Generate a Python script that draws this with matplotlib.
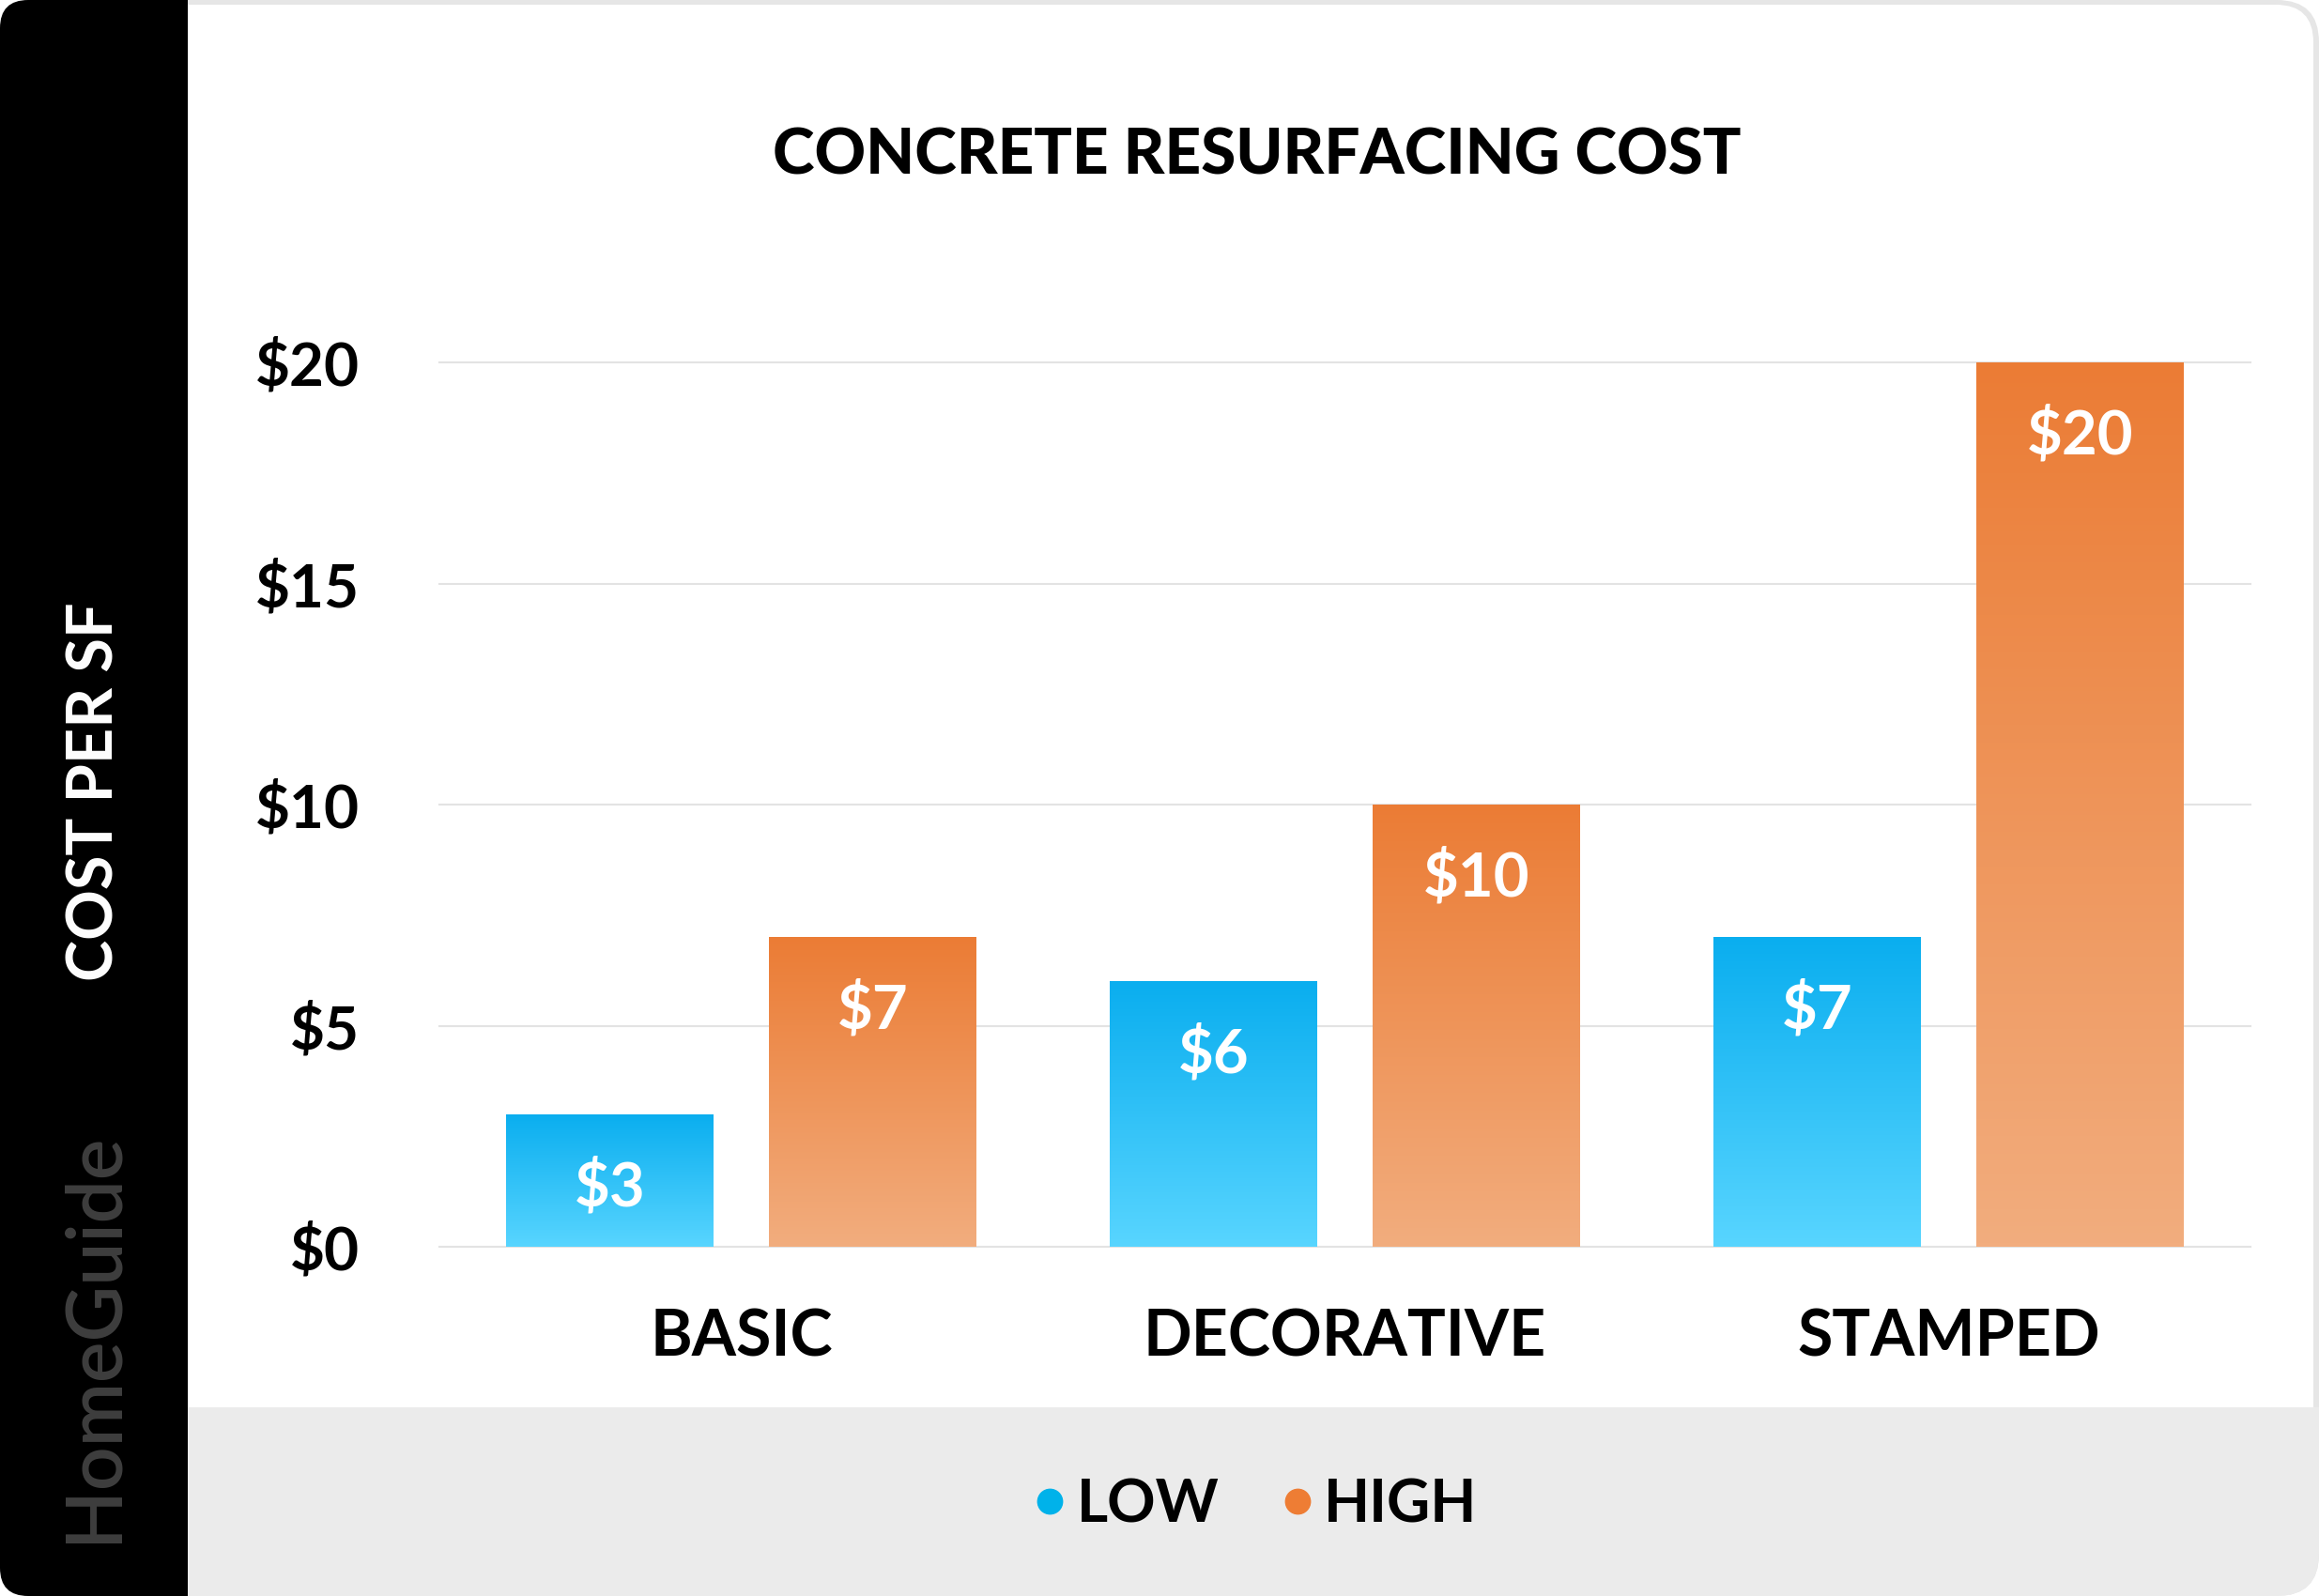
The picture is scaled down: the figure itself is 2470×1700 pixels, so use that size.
import numpy as np
import matplotlib.pyplot as plt
from matplotlib.patches import FancyBboxPatch, Rectangle
from matplotlib.colors import LinearSegmentedColormap
from matplotlib.lines import Line2D

# данные
categories = ['BASIC', 'DECORATIVE', 'STAMPED']
low_values = [3, 6, 7]
high_values = [7, 10, 20]
series_names = ['LOW', 'HIGH']
y_ticks = [0, 5, 10, 15, 20]
y_tick_labels = ['$0', '$5', '$10', '$15', '$20']

FONT = 'Lato'
W, H = 2470, 1700
BAND = 1499  # верх серой полосы легенды, px

fig = plt.figure(figsize=(W / 100, H / 100), dpi=100)
fig.patch.set_facecolor('white')

# фон карточки в пикселях
bg = fig.add_axes([0, 0, 1, 1], zorder=-5)
bg.set_xlim(0, W)
bg.set_ylim(H, 0)
bg.axis('off')
outer = FancyBboxPatch((0, 0), W, H, boxstyle='round,pad=0,rounding_size=45',
                       fc='#e6e6e6', ec='none')
bg.add_patch(outer)
bg.add_patch(FancyBboxPatch((0, 5), W - 6, H - 5, boxstyle='round,pad=0,rounding_size=40',
                            fc='white', ec='none'))
band = Rectangle((150, BAND), W - 150, H - BAND, fc='#ebebeb', ec='none')
bg.add_patch(band)
band.set_clip_path(outer)
bg.add_patch(FancyBboxPatch((0, 0), 260, H, boxstyle='round,pad=0,rounding_size=30',
                            fc='black', ec='none'))
bg.add_patch(Rectangle((200, 0), 80, 5, fc='#e6e6e6', ec='none'))
bg.add_patch(Rectangle((200, 5), 80, BAND - 5, fc='white', ec='none'))
bg.add_patch(Rectangle((200, BAND), 80, H - BAND, fc='#ebebeb', ec='none'))

bg.text(102, 843, 'COST PER SF', rotation=90, color='white', fontsize=48,
        fontweight='bold', family=FONT, ha='center', va='center')
bg.text(100, 1424, 'HomeGuide', rotation=90, color='#3e3e3e', fontsize=59,
        fontweight='semibold', family=FONT, ha='center', va='center')

fig.text(0.542, 1 - 166 / H, 'CONCRETE RESURFACING COST', fontsize=48.5,
         fontweight='black', family=FONT, ha='center', va='center')

# основной график
ax = fig.add_axes([468 / W, 1 - 1328 / H, (2397 - 468) / W, (1328 - 386) / H])
ax.set_facecolor('none')
x = np.arange(len(categories))
width = 0.343
offset = 0.218

blue_cmap = LinearSegmentedColormap.from_list('b', ['#58d5ff', '#0aaeef'])
orange_cmap = LinearSegmentedColormap.from_list('o', ['#f2ad7e', '#eb7c35'])

bars_low = ax.bar(x - offset, low_values, width, color='#0aaeef', zorder=2)
bars_high = ax.bar(x + offset, high_values, width, color='#eb7c35', zorder=2)

grad = np.linspace(0, 1, 256).reshape(-1, 1)
for bars, cmap in [(bars_low, blue_cmap), (bars_high, orange_cmap)]:
    for b in bars:
        x0, y0 = b.get_x(), b.get_y()
        x1, y1 = x0 + b.get_width(), y0 + b.get_height()
        im = ax.imshow(grad, cmap=cmap, origin='lower', aspect='auto',
                       extent=[x0, x1, y0, y1], zorder=3)
        im.set_clip_path(b)
        ax.annotate(f'${int(b.get_height())}', (x0 + b.get_width() / 2, y1),
                    xytext=(0, -56), textcoords='offset points', ha='center',
                    va='center', color='white', fontsize=47, fontweight='bold',
                    family=FONT, zorder=4)

ax.set_xlim(-0.5, 2.5)
ax.set_ylim(0, 20)
ax.set_yticks(y_ticks)
ax.set_yticklabels(y_tick_labels, family=FONT, fontsize=46, fontweight='bold')
ax.set_xticks(x)
ax.set_xticklabels(categories, family=FONT, fontsize=49, fontweight='bold')
ax.tick_params(axis='y', length=0, pad=61)
ax.tick_params(axis='x', length=0, pad=47)
ax.grid(axis='y', color='#e3e3e3', linewidth=1.5, zorder=0)
for line in ax.get_ygridlines():
    line.set_clip_on(False)
for s in ax.spines.values():
    s.set_visible(False)

# легенда
handles = [Line2D([], [], marker='o', ls='none', color='#00b2ea', markersize=19),
           Line2D([], [], marker='o', ls='none', color='#ee7d34', markersize=19)]
fig.legend(handles, series_names, loc='center', bbox_to_anchor=(0.541, 1 - 1603 / H),
           ncol=2, frameon=False, handlelength=0.6, handletextpad=0.15,
           columnspacing=1.0, prop={'family': FONT, 'size': 46, 'weight': 'bold'})

fig.savefig('out.png', dpi=100)
